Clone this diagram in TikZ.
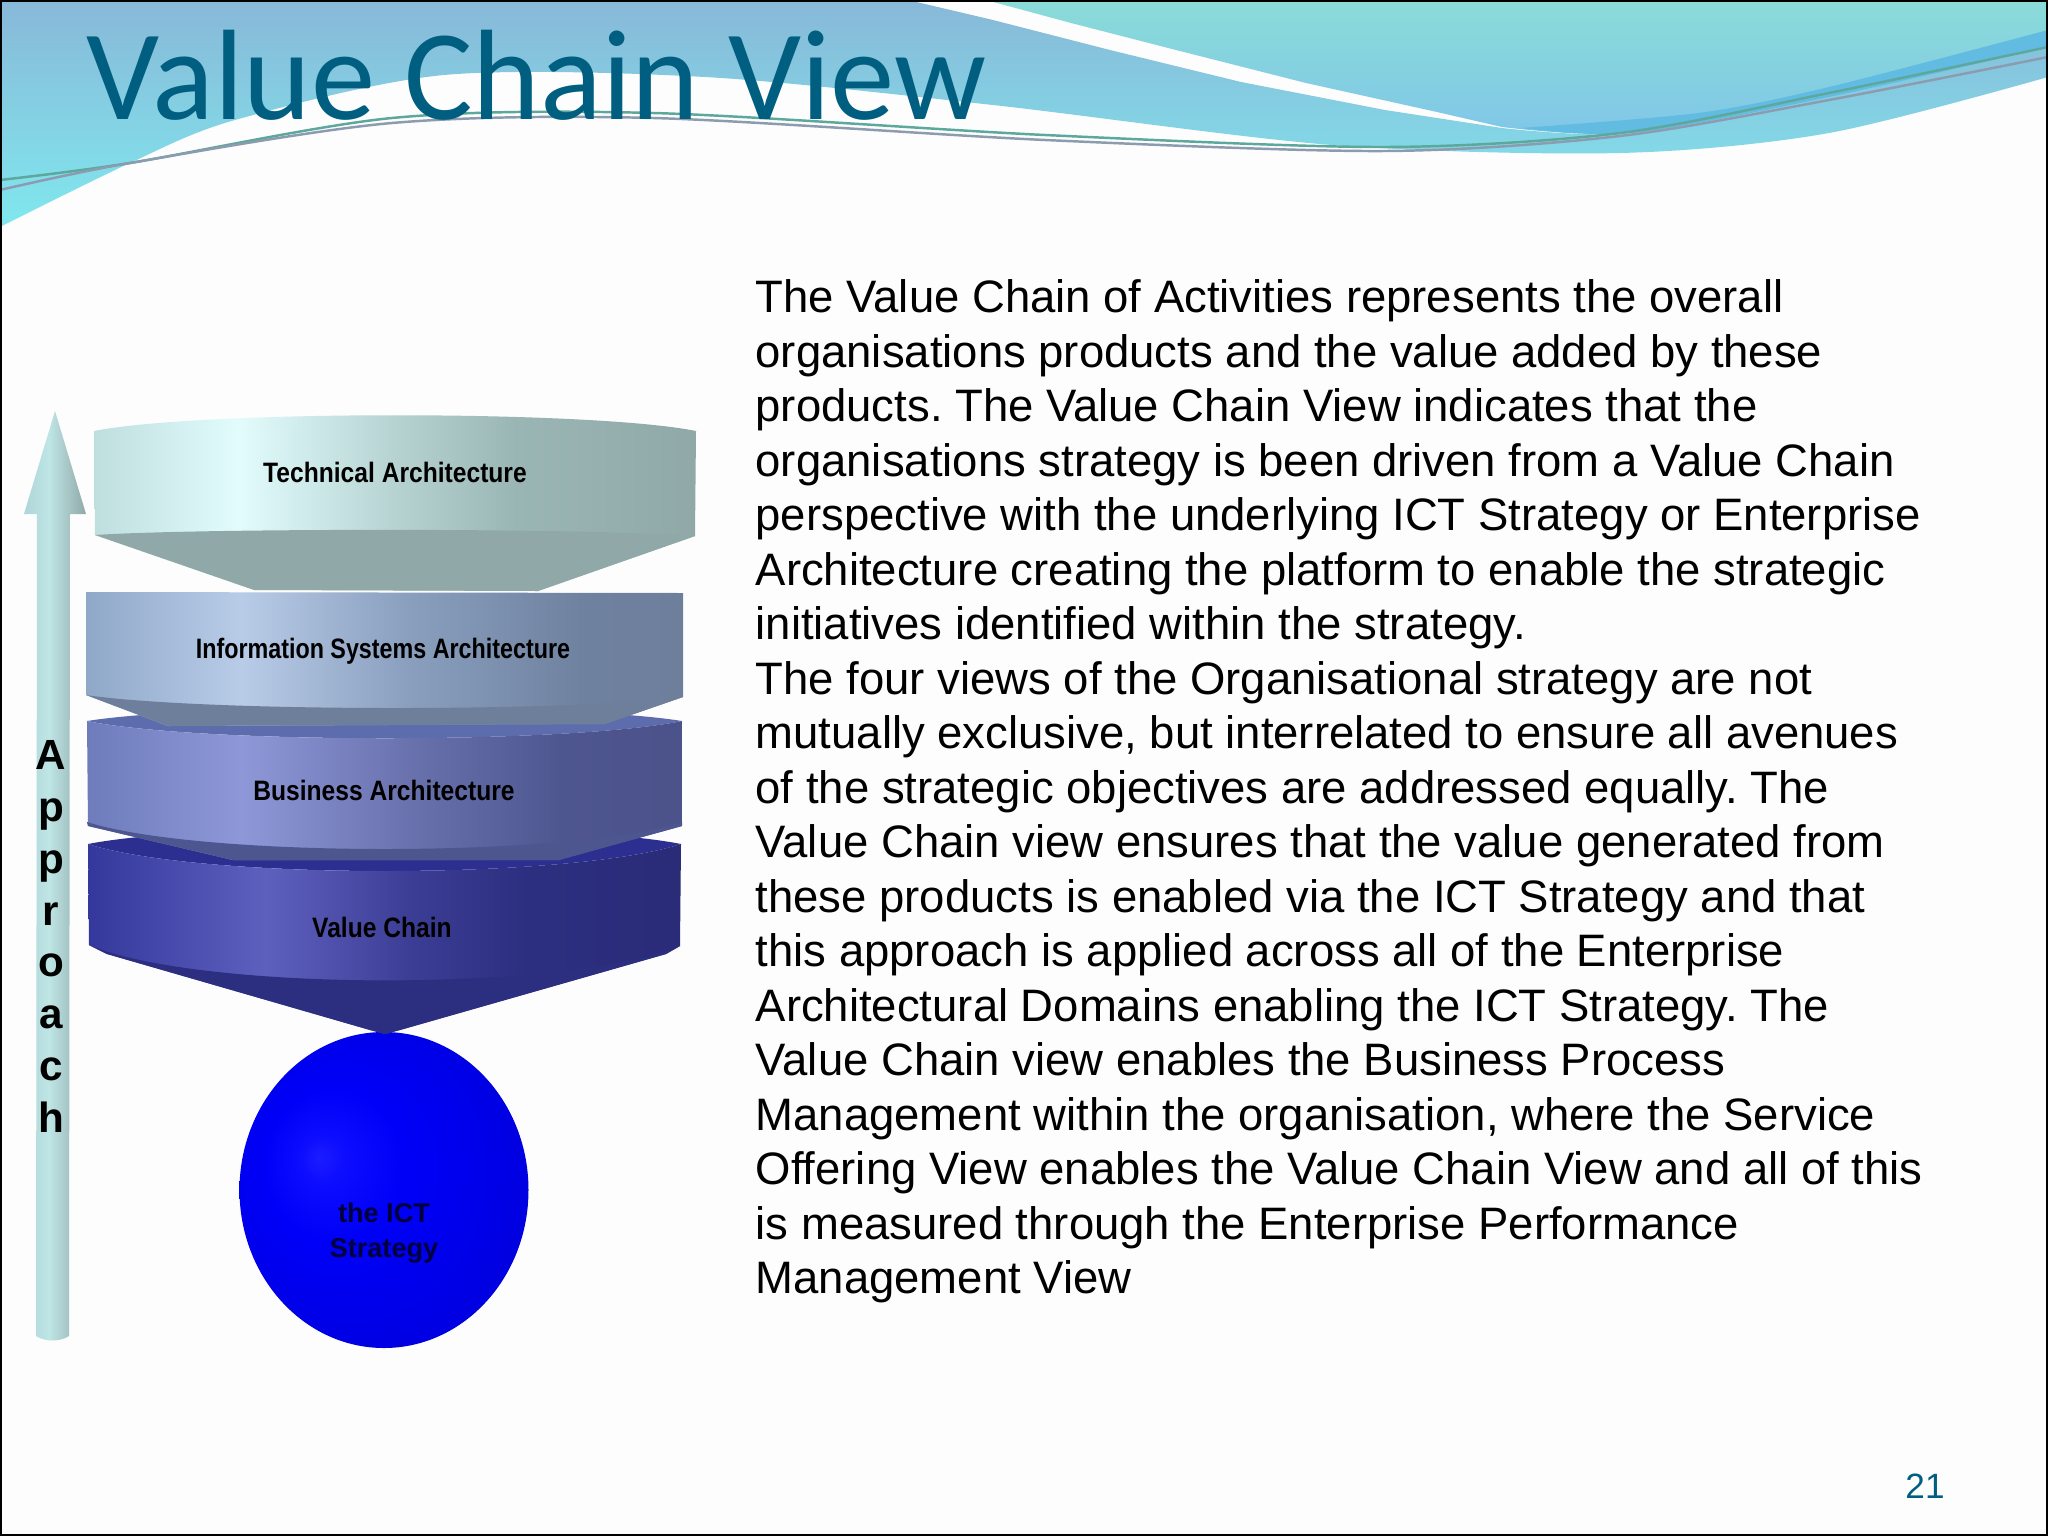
\documentclass[tikz,border=0pt]{standalone}
\usepackage{fontspec}
\setmainfont{Liberation Sans}
\newfontfamily\titlefont{Carlito}
\definecolor{titleblue}{HTML}{005F80}
\definecolor{pagewhite}{HTML}{FDFDFD}
\definecolor{bandtop}{HTML}{88B8D8}
\definecolor{bandlow}{HTML}{80E8EE}
\definecolor{tealtop}{HTML}{8ADCD8}
\definecolor{teallow}{HTML}{80C6E8}
\definecolor{swoosh}{HTML}{62BCE2}
\definecolor{wavegreen}{HTML}{5CA89C}
\definecolor{wavegray}{HTML}{8C9CB0}
\definecolor{techlo}{HTML}{BFDEDE}
\definecolor{techhi}{HTML}{E2FCFC}
\definecolor{techmid}{HTML}{B6D3D2}
\definecolor{techdk}{HTML}{9AB6B4}
\definecolor{techend}{HTML}{90A9A8}
\definecolor{infolo}{HTML}{90A8C8}
\definecolor{infohi}{HTML}{B8CCE8}
\definecolor{infomid}{HTML}{8A9FBE}
\definecolor{infodk}{HTML}{6E819F}
\definecolor{infoend}{HTML}{6E7F9C}
\definecolor{busilo}{HTML}{6E7CBC}
\definecolor{busihi}{HTML}{8E98D8}
\definecolor{busimid}{HTML}{6A72AE}
\definecolor{busidk}{HTML}{4E5690}
\definecolor{busiend}{HTML}{4C528A}
\definecolor{busitop}{HTML}{5C6CAC}
\definecolor{valuelo}{HTML}{34389C}
\definecolor{valuehi}{HTML}{5E60BE}
\definecolor{valuemid}{HTML}{3C3E96}
\definecolor{valuedk}{HTML}{2C2E80}
\definecolor{valueend}{HTML}{2A2C78}
\definecolor{valuetop}{HTML}{2C2F90}
\definecolor{shaftlo}{HTML}{AED6D8}
\definecolor{shafthi}{HTML}{BFE5E5}
\definecolor{shaftend}{HTML}{8FA9A8}
\definecolor{spherea}{HTML}{1C1CFF}
\definecolor{sphereb}{HTML}{0C0CFF}
\definecolor{spherec}{HTML}{0000F8}
\definecolor{sphered}{HTML}{0000E0}
\definecolor{spheree}{HTML}{0000BE}
\definecolor{ictink}{HTML}{00003C}
\pgfdeclarehorizontalshading{techshade}{100bp}{color(0bp)=(techlo);color(25bp)=(techlo);color(37bp)=(techhi);color(50bp)=(techmid);color(60bp)=(techdk);color(75bp)=(techend);color(100bp)=(techend)}
\pgfdeclarehorizontalshading{infoshade}{100bp}{color(0bp)=(infolo);color(25bp)=(infolo);color(38bp)=(infohi);color(52bp)=(infomid);color(67bp)=(infodk);color(75bp)=(infoend);color(100bp)=(infoend)}
\pgfdeclarehorizontalshading{busishade}{100bp}{color(0bp)=(busilo);color(25bp)=(busilo);color(38bp)=(busihi);color(52bp)=(busimid);color(65bp)=(busidk);color(75bp)=(busiend);color(100bp)=(busiend)}
\pgfdeclarehorizontalshading{valueshade}{100bp}{color(0bp)=(valuelo);color(25bp)=(valuelo);color(40bp)=(valuehi);color(52bp)=(valuemid);color(62bp)=(valuedk);color(75bp)=(valueend);color(100bp)=(valueend)}
\pgfdeclarehorizontalshading{shaftshade}{100bp}{color(0bp)=(shaftlo);color(25bp)=(shaftlo);color(45bp)=(shafthi);color(75bp)=(shaftend);color(100bp)=(shaftend)}
\pgfdeclareradialshading{sphereshade}{\pgfpoint{-11.4bp}{5.2bp}}{color(0bp)=(spherea);color(4bp)=(sphereb);color(12bp)=(spherec);color(30bp)=(sphered);color(50bp)=(spheree)}
\tikzset{
	slablabel/.style={font=\bfseries\fontsize{7}{9}\selectfont,text=black,inner sep=0pt,transform shape,yscale=1.14},
	waveline/.style={line width=0.7pt}
}
\begin{document}
\begin{tikzpicture}[x=0.01cm,y=-0.01cm]
	\useasboundingbox (0,0) rectangle (2048,1536);
	\fill [pagewhite] (0,0) rectangle (2048,1536);
	\shade [top color=bandtop, bottom color=bandlow] plot [smooth] coordinates {(0,227) (130,163) (235,120) (444,75) (705,77) (993,105) (1332,145) (1620,153) (1829,133) (2048,77)} -- (2048,47) -- plot [smooth] coordinates {(2048,47) (1829,93) (1633,133) (1502,128)} -- (1385,110) -- (1241,82) -- (1110,50) -- (993,20) -- (908,0) -- (0,0) -- cycle;
	\shade [top color=tealtop, bottom color=teallow] (986,0) -- (2048,0) -- (2048,47) -- plot [smooth] coordinates {(2048,47) (1829,93) (1633,133) (1502,127)} -- (1437,112) -- (1306,83) -- (1176,50) -- (1071,23) -- cycle;
	\fill [swoosh] plot [smooth] coordinates {(1520,128) (1633,133) (1829,97) (2048,47)} -- (2048,30) -- plot [smooth] coordinates {(2048,30) (1829,87) (1698,113) (1520,128)} -- cycle;
	\draw [waveline,wavegreen] plot [smooth] coordinates {(0,180) (130,163) (392,118) (653,113) (1045,135) (1385,147) (1620,133) (1829,93) (2048,47)};
	\draw [waveline,wavegray] plot [smooth] coordinates {(0,190) (130,163) (392,123) (653,118) (1045,140) (1385,151) (1620,136) (1829,100) (2048,57)};
	\node (title) [font=\titlefont\fontsize{36.6}{40}\selectfont,text=titleblue,anchor=base west,inner sep=0pt] at (86,119) {Value Chain View};
	\shade [shading=shaftshade] (55,411) -- (86,514) -- (70,514) -- (69,1336) .. controls (60,1342) and (45,1342) .. (36,1336) -- (37,514) -- (24,514) -- cycle;
	\node (approach) [font=\bfseries\fontsize{12}{14.72}\selectfont,align=center,inner sep=0pt,anchor=north] at (51,740) {A\\p\\p\\r\\o\\a\\c\\h};
	\shade [shading=sphereshade] (384,1190) ellipse (144.5 and 158);
	\node (ictlabel) [font=\bfseries\fontsize{7.7}{9.9}\selectfont,text=ictink,align=center,inner sep=0pt] at (384,1233) {the ICT\\Strategy};
	\fill [valuetop] (88,844) .. controls (200,822) and (570,822) .. (681,844) .. controls (570,880) and (200,880) .. cycle;
	\shade [shading=valueshade] (88,844) .. controls (200,880) and (570,880) .. (681,844) -- (680,946) -- (666,954) -- (400,1030) -- (385,1034) -- (370,1030) -- (107,954) -- (89,945) -- cycle;
	\fill [valuedk] (89,945) .. controls (200,992) and (570,992) .. (680,946) -- (666,954) -- (400,1030) -- (385,1034) -- (370,1030) -- (107,954) -- cycle;
	\node (valuelabel) [slablabel] at (382,927) {Value Chain};
	\fill [busitop] (87,721) .. controls (200,703) and (570,703) .. (682,721) .. controls (570,744) and (200,744) .. cycle;
	\shade [shading=busishade] (87,721) .. controls (200,744) and (570,744) .. (682,721) -- (682,822) -- (682,826) -- (559,860) -- (233,860) -- (88,826) -- cycle;
	\fill [busidk] (87,822) .. controls (200,858) and (570,858) .. (682,822) -- (682,826) -- (559,860) -- (233,860) -- (88,826) -- cycle;
	\node (busilabel) [slablabel] at (384,790) {Business Architecture};
	\shade [shading=infoshade] (86,592) -- (683,593) -- (683,697) -- (605,724) -- (168,726) -- (86,695) -- cycle;
	\fill [infoend] (86,695) .. controls (200,712) and (570,712) .. (683,697) -- (605,724) -- (168,726) -- cycle;
	\node (infolabel) [slablabel,xscale=0.947] at (383,651) {Information Systems Architecture};
	\shade [shading=techshade] (94,431) .. controls (200,410) and (592,410) .. (696,431) -- (695,536) -- (538,591) -- (254,590) -- (95,535) -- cycle;
	\fill [techend] (95,535) .. controls (200,528) and (592,528) .. (695,536) -- (538,591) -- (254,590) -- cycle;
	\node (techlabel) [slablabel] at (395,472) {Technical Architecture};
	\node (bodytext) [font=\frenchspacing\fontsize{12.93}{15.5}\selectfont,align=left,anchor=north west,inner sep=0pt] at (755,279) {The Value Chain of Activities represents the overall\\organisations products and the value added by these\\products. The Value Chain View indicates that the\\organisations strategy is been driven from a Value Chain\\perspective with the underlying ICT Strategy or Enterprise\\Architecture creating the platform to enable the strategic\\initiatives identified within the strategy.\\The four views of the Organisational strategy are not\\mutually exclusive, but interrelated to ensure all avenues\\of the strategic objectives are addressed equally. The\\Value Chain view ensures that the value generated from\\these products is enabled via the ICT Strategy and that\\this approach is applied across all of the Enterprise\\Architectural Domains enabling the ICT Strategy. The\\Value Chain view enables the Business Process\\Management within the organisation, where the Service\\Offering View enables the Value Chain View and all of this\\is measured through the Enterprise Performance\\Management View};
	\node (pagenum) [font=\fontsize{10}{12}\selectfont,text=titleblue,inner sep=0pt] at (1925,1486) {21};
	\draw [black,line width=0.5pt] (1,1) rectangle (2047,1535);
\end{tikzpicture}
\end{document}
